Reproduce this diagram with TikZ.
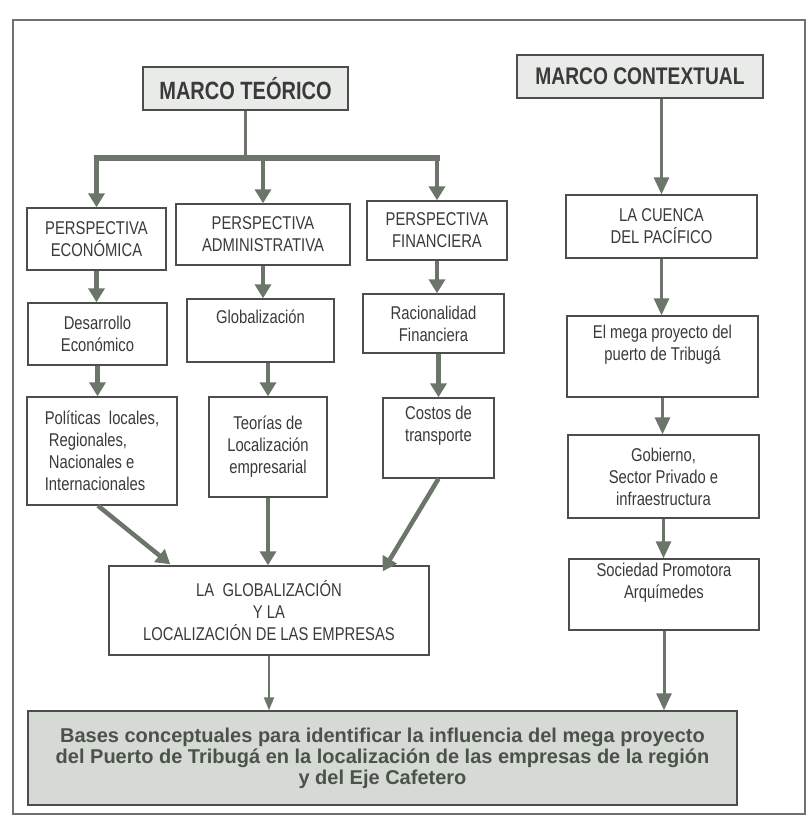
\documentclass[tikz,border=0pt]{standalone}
\usepackage{fontspec}
\setmainfont{Liberation Sans}[FakeStretch=0.8]
\newfontfamily\plainsans{Liberation Sans}
\usetikzlibrary{arrows.meta}
\definecolor{arrowc}{HTML}{6B7569}
\definecolor{boxc}{HTML}{4D4D4D}
\definecolor{txtc}{HTML}{3A3A3A}
\definecolor{basetxt}{HTML}{4A5249}
\definecolor{marcofill}{HTML}{E8EBE7}
\definecolor{basefill}{HTML}{D6DAD5}
\begin{document}
\begin{tikzpicture}[x=1pt,y=-1pt,
  box/.style={draw=boxc, line width=1.4pt, inner sep=0pt, align=center, text=txtc,
    font=\fontsize{18.5}{22}\selectfont},
  marco/.style={box, fill=marcofill, font=\bfseries\fontsize{25}{27}\selectfont},
  thickarr/.style={draw=arrowc, line width=4.5pt, -{Triangle[length=14pt,width=16pt]}},
  medarr/.style={draw=arrowc, line width=3pt, -{Triangle[length=17pt,width=15pt]}},
  thinarr/.style={draw=arrowc, line width=2pt, -{Triangle[length=13pt,width=10pt]}},
  barline/.style={draw=arrowc, line width=6pt, line cap=rect},
  stemline/.style={draw=arrowc, line width=3.5pt}
]
\useasboundingbox (0,0) rectangle (811,824);
\fill[white] (0,0) rectangle (811,824);
\draw[boxc!80, line width=1.5pt] (13,20) rectangle (805,814);

% left column
\node[marco, minimum width=205pt, minimum height=43pt] (mt) at (245.5,88.5) {MARCO TEÓRICO};
\node[box, minimum width=139pt, minimum height=62pt] (pe) at (96.5,239) {PERSPECTIVA\\ECONÓMICA};
\node[box, minimum width=174pt, minimum height=61pt] (pa) at (263,234.5) {PERSPECTIVA\\ADMINISTRATIVA};
\node[box, minimum width=140pt, minimum height=59pt] (pf) at (437,230.5) {PERSPECTIVA\\FINANCIERA};
\node[box, minimum width=139pt, minimum height=62pt] (de) at (97.5,334) {Desarrollo\\Económico};
\node[box, minimum width=147pt, minimum height=63pt] (gl) at (260.5,330.5) {Globalización\\\strut};
\node[box, minimum width=141pt, minimum height=59pt] (rf) at (433.5,323.5) {Racionalidad\\Financiera};
\node[box, minimum width=150pt, minimum height=108pt, align=left] (po) at (102,451) {Políticas\ \ locales,\\\ Regionales,\\\ Nacionales e\\Internacionales};
\node[box, minimum width=118pt, minimum height=100pt] (te) at (268,447) {Teorías de\\Localización\\empresarial};
\node[box, minimum width=111pt, minimum height=80pt] (co) at (438.5,438) {Costos de\\transporte\\[6pt]};
\node[box, minimum width=320pt, minimum height=89pt] (lg) at (269,610.5) {LA\ \ GLOBALIZACIÓN\\Y LA\\LOCALIZACIÓN DE LAS EMPRESAS};

% right column
\node[marco, minimum width=246pt, minimum height=43pt, font=\bfseries\fontsize{24}{26}\selectfont] (mc) at (640,76.5) {MARCO CONTEXTUAL};
\node[box, minimum width=191pt, minimum height=63pt] (cu) at (661.5,226.5) {LA CUENCA\\DEL PACÍFICO};
\node[box, minimum width=191pt, minimum height=81pt] (me) at (662.5,356.5) {El mega proyecto del\\puerto de Tribugá\\[6pt]};
\node[box, minimum width=191pt, minimum height=83pt] (go) at (663.5,476.5) {Gobierno,\\Sector Privado e\\infraestructura};
\node[box, minimum width=190pt, minimum height=71pt] (so) at (664,594.5) {Sociedad Promotora\\Arquímedes\\[6pt]};

% bottom
\node[box, fill=basefill, text=basetxt, minimum width=709pt, minimum height=94pt,
  font=\plainsans\bfseries\fontsize{20}{21}\selectfont] (ba) at (382.5,758)
  {Bases conceptuales para identificar la influencia del mega proyecto\\del Puerto de Tribugá en la localización de las empresas de la región\\y del Eje Cafetero};

% connectors left
\coordinate (barL) at (pe.north |- 0,158);
\coordinate (barM) at (mt.south |- 0,158);
\coordinate (barR) at (pf.north |- 0,158);
\draw[stemline] (mt.south) -- (barM);
\draw[barline] (barL) -- (barR);
\draw[thickarr] (barL) -- (pe.north);
\draw[thickarr] (pa.north |- barM) -- (pa.north);
\draw[thickarr] (barR) -- (pf.north);

\draw[thickarr] (pe.south) -- (pe.south |- de.north);
\draw[thickarr] (pa.south) -- (pa.south |- gl.north);
\draw[thickarr] (pf.south) -- (pf.south |- rf.north);
\draw[thickarr] (de.south) -- (de.south |- po.north);
\draw[thickarr] (te.north |- gl.south) -- (te.north);
\draw[thickarr] (co.north |- rf.south) -- (co.north);

\draw[thickarr] ([xshift=-4pt]po.south) -- ([xshift=62pt,yshift=1pt]lg.north west);
\draw[thickarr] (te.south) -- (te.south |- lg.north);
\draw[thickarr] (co.south) -- ([xshift=-47pt,yshift=-6pt]lg.north east);

\draw[thinarr] (lg.south) -- (lg.south |- ba.north);
\draw[medarr] (so.south) -- (so.south |- ba.north);

% connectors right
\draw[medarr] (cu.north |- mc.south) -- (cu.north);
\draw[medarr] (cu.south) -- (cu.south |- me.north);
\draw[medarr] (me.south) -- (me.south |- go.north);
\draw[medarr] (go.south) -- (go.south |- so.north);
\end{tikzpicture}
\end{document}
